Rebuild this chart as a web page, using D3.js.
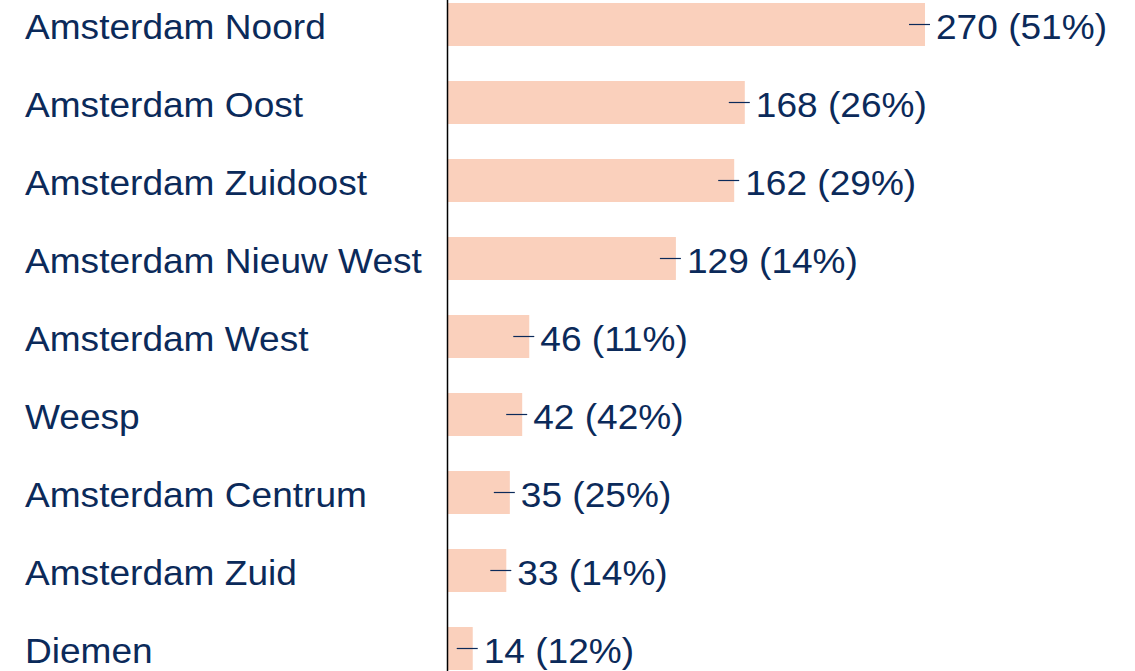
<!doctype html>
<html>
<head>
<meta charset="utf-8">
<script src="https://d3js.org/d3.v7.min.js"></script>
<style>
  body { margin: 0; background: #fff; }
  svg { display: block; }
</style>
</head>
<body>
<svg id="chart" width="1135" height="671"></svg>
<script>
const regions = ["Amsterdam Noord", "Amsterdam Oost", "Amsterdam Zuidoost", "Amsterdam Nieuw West",
  "Amsterdam West", "Weesp", "Amsterdam Centrum", "Amsterdam Zuid", "Diemen"];
const counts = [270, 168, 162, 129, 46, 42, 35, 33, 14];
const shares = [51, 26, 29, 14, 11, 42, 25, 14, 12];

const data = regions.map((r, i) => ({ region: r, count: counts[i], share: shares[i] }));

const TEXT = "#0b2a5a";
const BAR = "#fad0bc";
const FONT = "'Liberation Sans', Arial, sans-serif";
const FS = 34.5;
const STRETCH = 1.075; // reference glyphs are a bit wider than Liberation Sans

const svg = d3.select("#chart");

const x = d3.scaleLinear().domain([0, 270]).range([448, 925]);
const y = d3.scaleBand().domain(regions).range([-14.5, 687.5])
  .paddingInner(0.449).paddingOuter(0.2245);

svg.selectAll("rect.bar").data(data).enter().append("rect")
  .attr("class", "bar")
  .attr("x", x(0))
  .attr("y", d => y(d.region))
  .attr("width", d => x(d.count) - x(0))
  .attr("height", y.bandwidth())
  .attr("fill", BAR);

// axis line
svg.append("line")
  .attr("x1", 447.5).attr("x2", 447.5)
  .attr("y1", 0).attr("y2", 671)
  .attr("stroke", "#000").attr("stroke-width", 1.5);

const cy = d => y(d.region) + y.bandwidth() / 2;

svg.selectAll("line.tick").data(data).enter().append("line")
  .attr("class", "tick")
  .attr("x1", d => x(d.count) - 16)
  .attr("x2", d => x(d.count) + 5)
  .attr("y1", d => cy(d)).attr("y2", d => cy(d))
  .attr("stroke", TEXT).attr("stroke-width", 1.2);

svg.selectAll("text.val").data(data).enter().append("text")
  .attr("class", "val")
  .attr("transform", d => `translate(${x(d.count) + 11},${cy(d) + 14}) scale(${STRETCH},1)`)
  .attr("font-family", FONT).attr("font-size", FS)
  .attr("fill", TEXT)
  .text(d => d.count + " (" + d.share + "%)");

svg.selectAll("text.lab").data(data).enter().append("text")
  .attr("class", "lab")
  .attr("transform", d => `translate(25,${cy(d) + 14}) scale(${STRETCH},1)`)
  .attr("font-family", FONT).attr("font-size", FS)
  .attr("fill", TEXT)
  .text(d => d.region);
</script>
</body>
</html>
